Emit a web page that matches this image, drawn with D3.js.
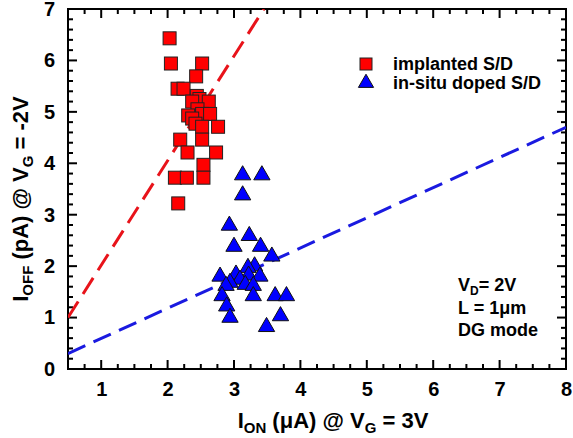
<!DOCTYPE html>
<html>
<head>
<meta charset="utf-8">
<script src="https://cdn.jsdelivr.net/npm/d3@7"></script>
<style>
body { margin: 0; background: #fff; }
svg { display: block; font-family: "Liberation Sans", Arial, sans-serif; font-weight: bold; }
</style>
</head>
<body>
<svg id="chart" width="573" height="438"></svg>
<script>
// implanted S/D  [I_ON (uA), I_OFF (pA)]
var implanted = [
    [2.03, 6.43], [2.05, 5.94], [2.52, 5.94], [2.43, 5.69], [2.15, 5.45],
    [2.24, 5.45], [2.44, 5.31], [2.48, 5.25], [2.37, 5.20], [2.62, 5.20],
    [2.45, 5.05], [2.52, 4.96], [2.64, 4.96], [2.31, 4.93], [2.37, 4.87],
    [2.42, 4.77], [2.52, 4.71], [2.76, 4.71], [2.19, 4.46], [2.52, 4.46],
    [2.30, 4.21], [2.73, 4.21], [2.54, 3.97], [2.11, 3.72], [2.29, 3.72],
    [2.54, 3.72], [2.16, 3.22]
];
// in-situ doped S/D
var insitu = [
    [3.13, 3.77], [3.42, 3.77], [3.13, 3.38], [2.93, 2.79], [3.23, 2.59],
    [3.00, 2.38], [3.40, 2.38], [3.57, 2.19], [3.31, 2.00], [3.21, 1.97],
    [2.79, 1.80], [3.03, 1.84], [3.22, 1.82], [3.39, 1.80], [3.09, 1.74],
    [2.94, 1.68], [3.17, 1.64], [2.88, 1.62], [3.29, 1.62], [2.82, 1.42],
    [3.29, 1.42], [3.62, 1.42], [3.79, 1.42], [2.89, 1.22], [2.94, 1.00],
    [3.70, 1.03], [3.49, 0.82]
];
// dashed guide lines (end points)
var implantedFit = [[0.5, 1.0], [3.45, 7.0]];
var insituFit = [[0.5, 0.3], [8.0, 4.7]];

var xTicks = [1, 2, 3, 4, 5, 6, 7, 8];
var yTicks = [0, 1, 2, 3, 4, 5, 6, 7];
var legendLabels = ["implanted S/D", "in-situ doped S/D"];
var notes = ["L = 1\u03bcm", "DG mode"];

var margin = { top: 9, right: 7, bottom: 68, left: 68 },
    width = 573 - margin.left - margin.right,
    height = 437 - margin.top - margin.bottom;

var svg = d3.select("#chart");
var g = svg.append("g")
    .attr("transform", "translate(" + margin.left + "," + margin.top + ")");

var x = d3.scaleLinear().domain([0.5, 8]).range([0, width]);
var y = d3.scaleLinear().domain([0, 7]).range([height, 0]);

svg.append("defs").append("clipPath").attr("id", "plot")
    .append("rect").attr("width", width).attr("height", height);

// minor ticks
var xMinor = d3.range(0.5, 8.001, 0.25),
    yMinor = d3.range(0, 7.001, 0.2);

// tick labels via d3 axes
function styleAxis(sel) {
    sel.select(".domain").remove();
    sel.selectAll("line").remove();
    sel.selectAll("text").attr("font-size", 20).attr("font-weight", "bold").attr("fill", "#000");
}

g.append("g").attr("transform", "translate(0," + height + ")")
    .call(d3.axisBottom(x).tickValues(xTicks).tickSize(0).tickPadding(13).tickFormat(d3.format("d")))
    .call(styleAxis);
g.append("g")
    .call(d3.axisLeft(y).tickValues(yTicks).tickSize(0).tickPadding(13).tickFormat(d3.format("d")))
    .call(styleAxis);

// tick marks as rects, inward on all four sides
function isMajor(v) { return Math.abs(v - Math.round(v)) < 1e-6; }
var tickG = g.append("g").attr("fill", "#000");
tickG.selectAll(".xt")
    .data(xMinor.filter(function(v) { return v > 0.5 && v < 8; })).enter()
    .append("rect")
    .attr("x", function(d) { return x(d) - 1; })
    .attr("y", function(d) { return height - (isMajor(d) ? 9 : 5); })
    .attr("width", 2)
    .attr("height", function(d) { return isMajor(d) ? 9 : 5; });
tickG.selectAll(".xt2")
    .data(xMinor.filter(function(v) { return v > 0.5 && v < 8; })).enter()
    .append("rect")
    .attr("x", function(d) { return x(d) - 1; })
    .attr("y", 0)
    .attr("width", 2)
    .attr("height", function(d) { return isMajor(d) ? 9 : 5; });
tickG.selectAll(".yt")
    .data(yMinor.filter(function(v) { return v > 0 && v < 7; })).enter()
    .append("rect")
    .attr("x", 0)
    .attr("y", function(d) { return y(d) - 1; })
    .attr("width", function(d) { return isMajor(d) ? 9 : 5; })
    .attr("height", 2);
tickG.selectAll(".yt2")
    .data(yMinor.filter(function(v) { return v > 0 && v < 7; })).enter()
    .append("rect")
    .attr("x", function(d) { return width - (isMajor(d) ? 9 : 5); })
    .attr("y", function(d) { return y(d) - 1; })
    .attr("width", function(d) { return isMajor(d) ? 9 : 5; })
    .attr("height", 2);

// frame
g.append("rect")
    .attr("width", width).attr("height", height)
    .attr("fill", "none").attr("stroke", "#000").attr("stroke-width", 2);

// guide lines
var line = d3.line().x(function(d) { return x(d[0]); }).y(function(d) { return y(d[1]); });
var lines = g.append("g").attr("clip-path", "url(#plot)");
lines.append("path").datum(implantedFit)
    .attr("d", line).attr("fill", "none")
    .attr("stroke", "#e8131a").attr("stroke-width", 3).attr("stroke-dasharray", "19,9");
lines.append("path").datum(insituFit)
    .attr("d", line).attr("fill", "none")
    .attr("stroke", "#1a1ae0").attr("stroke-width", 3).attr("stroke-dasharray", "19,9");

// markers
var sq = 13;
g.append("g").selectAll("rect")
    .data(implanted).enter()
    .append("rect")
    .attr("x", function(d) { return x(d[0]) - sq / 2; })
    .attr("y", function(d) { return y(d[1]) - sq / 2; })
    .attr("width", sq).attr("height", sq)
    .attr("fill", "#ff0000").attr("stroke", "#222").attr("stroke-width", 1);

var tri = d3.symbol().type(d3.symbolTriangle).size(115);
g.append("g").selectAll("path")
    .data(insitu).enter()
    .append("path")
    .attr("d", tri)
    .attr("transform", function(d) { return "translate(" + x(d[0]) + "," + y(d[1]) + ")"; })
    .attr("fill", "#0000ff").attr("stroke", "#111").attr("stroke-width", 1);

// legend
var legend = svg.append("g").attr("transform", "translate(366,64)");
legend.append("rect")
    .attr("x", -6).attr("y", -6).attr("width", 12).attr("height", 12)
    .attr("fill", "#ff0000").attr("stroke", "#222").attr("stroke-width", 1);
legend.append("path").attr("d", d3.symbol().type(d3.symbolTriangle).size(100))
    .attr("transform", "translate(0,19)")
    .attr("fill", "#0000ff").attr("stroke", "#111").attr("stroke-width", 1);
legend.selectAll("text.lg")
    .data(legendLabels).enter()
    .append("text")
    .attr("x", 27)
    .attr("y", function(d, i) { return 6 + i * 19; })
    .attr("font-size", 18)
    .text(function(d) { return d; });

// notes
var note = svg.append("g").attr("transform", "translate(458,291)").attr("font-size", 18);
var vd = note.append("text").attr("y", 0);
vd.append("tspan").text("V");
vd.append("tspan").attr("font-size", 12).attr("dy", 4).text("D");
vd.append("tspan").attr("dy", -4).text("= 2V");
note.selectAll("text.n")
    .data(notes).enter()
    .append("text")
    .attr("y", function(d, i) { return 23 + i * 22; })
    .text(function(d) { return d; });

// x title
var xt = svg.append("text")
    .attr("x", margin.left + width / 2 + 16).attr("y", 428)
    .attr("text-anchor", "middle").attr("font-size", 22);
xt.append("tspan").text("I");
xt.append("tspan").attr("font-size", 15).attr("dy", 5).text("ON");
xt.append("tspan").attr("dy", -5).text(" (\u03bcA) @ V");
xt.append("tspan").attr("font-size", 15).attr("dy", 5).text("G");
xt.append("tspan").attr("dy", -5).text(" = 3V");

// y title
var yt = svg.append("text")
    .attr("transform", "translate(28," + (margin.top + height / 2 + 10) + ") rotate(-90)")
    .attr("text-anchor", "middle").attr("font-size", 22);
yt.append("tspan").text("I");
yt.append("tspan").attr("font-size", 15).attr("dy", 5).text("OFF");
yt.append("tspan").attr("dy", -5).text(" (pA) @ V");
yt.append("tspan").attr("font-size", 15).attr("dy", 5).text("G");
yt.append("tspan").attr("dy", -5).text(" = -2V");
</script>
</body>
</html>
